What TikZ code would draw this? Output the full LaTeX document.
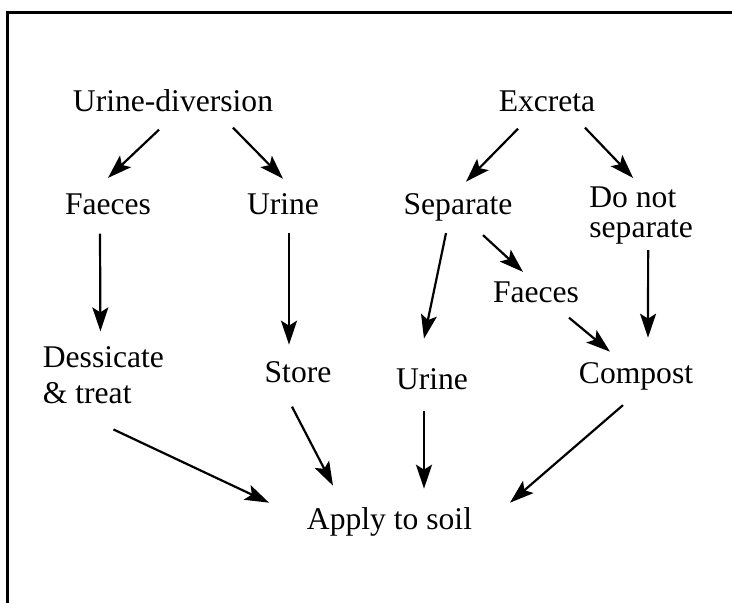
\documentclass[tikz,border=0pt]{standalone}
\usepackage{fontspec}
\setmainfont{Liberation Serif}
\usetikzlibrary{arrows.meta}

\tikzset{
  lbl/.style={inner sep=0pt, font=\fontsize{15.8pt}{18pt}\selectfont},
  arr/.style={line width=1.1pt, -{Stealth[length=12pt, width=8pt, inset=2.5pt]}}
}

\begin{document}
\begin{tikzpicture}[x=0.5pt, y=-0.5pt]
  \useasboundingbox (0,0) rectangle (732,603);

  % Frame, open at the right and bottom
  \draw[line width=1.25pt, line cap=rect] (7.5,603) -- (7.5,12.5) -- (732,12.5);

  % Top row
  \node[lbl, anchor=base] (udiv) at (173,112) {Urine-diversion};
  \node[lbl, anchor=base] (excreta) at (547,112) {Excreta};

  % Second row
  \node[lbl, anchor=base] (faecesL) at (108,215) {Faeces};
  \node[lbl, anchor=base] (urineL) at (283,215) {Urine};
  \node[lbl, anchor=base] (separate) at (458,215) {Separate};
  \node[lbl, anchor=north west, align=left,
        font=\fontsize{15.8pt}{15pt}\selectfont] (donot) at (589,186) {Do not\\separate};

  % Third row
  \node[lbl, anchor=base] (faecesR) at (536,303) {Faeces};

  % Fourth row
  \node[lbl, anchor=north west, align=left] (dess) at (42.5,346.4) {Dessicate\\\& treat};
  \node[lbl, anchor=base] (store) at (298,383) {Store};
  \node[lbl, anchor=base] (urineM) at (432,389) {Urine};
  \node[lbl, anchor=base] (compost) at (636,384) {Compost};

  % Bottom
  \node[lbl, anchor=base] (apply) at (389.5,529) {Apply to soil};

  % Connectors: from below one node to above the next
  \foreach \a/\ax/\ay/\b/\bx/\by in {
    udiv/-14/17/faecesL/0/-16,
    udiv/60/15/urineL/0/-15,
    excreta/-29/16/separate/8/-12,
    excreta/38/15/donot/-8/-8,
    faecesL/-8/18/dess/-3/-15,
    urineL/6/17/store/-9/-17,
    separate/-12/11/urineM/-8/-29,
    separate/25/13/faecesR/-13/-10,
    faecesR/33/14/compost/-26/-11,
    donot/7/6/compost/12/-25,
    dess/10/25/apply/-120.5/-4,
    store/-6/23/apply/-56.5/-21,
    urineM/-8/21/apply/34.5/-18,
    compost/-13/14/apply/120.5/-4%
  } {
    \draw[arr] ([shift={(\ax,\ay)}]\a.south) -- ([shift={(\bx,\by)}]\b.north);
  }
\end{tikzpicture}
\end{document}
